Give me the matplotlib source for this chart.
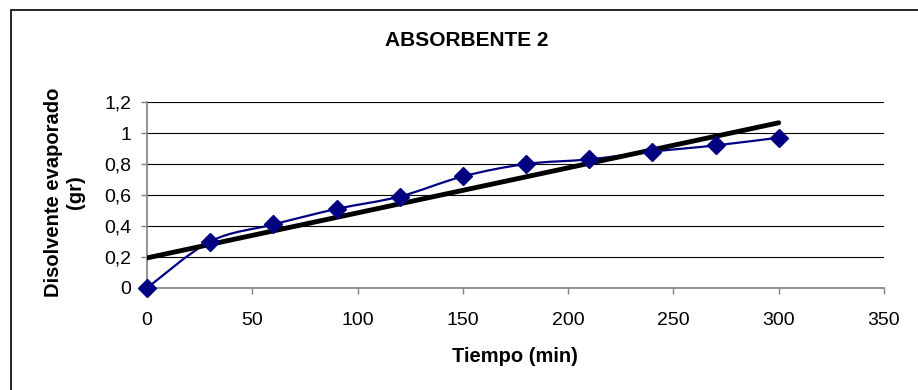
import numpy as np
import matplotlib
matplotlib.use("Agg")
import matplotlib.pyplot as plt
from matplotlib.path import Path
from matplotlib.patches import PathPatch, Rectangle

# data
tiempo = [0, 30, 60, 90, 120, 150, 180, 210, 240, 270, 300]
evaporado = [0.0, 0.30, 0.41, 0.51, 0.59, 0.72, 0.80, 0.83, 0.88, 0.92, 0.97]
xticks = [0, 50, 100, 150, 200, 250, 300, 350]
yticks = [0, 0.2, 0.4, 0.6, 0.8, 1.0, 1.2]
ytick_labels = ["0", "0,2", "0,4", "0,6", "0,8", "1", "1,2"]

plt.rcParams['font.family'] = ['Liberation Sans', 'DejaVu Sans']

fig = plt.figure(figsize=(9.18, 3.9), dpi=100)
W, H = 918, 390
ax = fig.add_axes([147 / W, 1 - 288 / H, (884 - 147) / W, (288 - 102) / H])

# outer frame of the chart area
fig.patches.append(Rectangle((11 / W, -0.1), 1.2, 1 - 10 / H + 0.1, transform=fig.transFigure,
                             fill=False, edgecolor='black', linewidth=1.2))

# smoothed line (Excel-style) through the points, drawn as bezier path
x = np.array(tiempo, dtype=float)
y = np.array(evaporado)
verts = [(x[0], y[0])]
codes = [Path.MOVETO]
n = len(x)
for i in range(n - 1):
    x0, y0 = (x[i - 1], y[i - 1]) if i > 0 else (x[i], y[i])
    x3, y3 = (x[i + 2], y[i + 2]) if i + 2 < n else (x[i + 1], y[i + 1])
    c1 = (x[i] + (x[i + 1] - x0) / 6, y[i] + (y[i + 1] - y0) / 6)
    c2 = (x[i + 1] - (x3 - x[i]) / 6, y[i + 1] - (y3 - y[i]) / 6)
    verts += [c1, c2, (x[i + 1], y[i + 1])]
    codes += [Path.CURVE4] * 3
ax.add_patch(PathPatch(Path(verts, codes), fill=False, edgecolor='#000080', linewidth=1.6, zorder=3))

# linear trendline
m, b = np.polyfit(x, y, 1)
ax.plot([0, 300], [b, m * 300 + b], color='black', linewidth=3.5, solid_capstyle='round', zorder=4)

ax.plot(tiempo, evaporado, linestyle='none', marker='D', markersize=9, color='#000080',
        clip_on=False, zorder=5)

ax.set_xlim(0, 350)
ax.set_ylim(0, 1.2)
ax.set_xticks(xticks)
ax.set_yticks(yticks)
ax.set_yticklabels(ytick_labels)
ax.tick_params(axis='both', labelsize=14, length=4.3, color='#808080', width=1)
ax.tick_params(axis='y', pad=7)
ax.tick_params(axis='x', pad=13)
ax.grid(axis='y', color='black', linewidth=0.8)
ax.set_axisbelow(True)
for s in ['top', 'right']:
    ax.spines[s].set_visible(False)
for s in ['left', 'bottom']:
    ax.spines[s].set_color('#808080')
    ax.spines[s].set_linewidth(1.2)

fig.text(467 / W, 1 - 40 / H, 'ABSORBENTE 2', fontsize=15, fontweight='bold',
         ha='center', va='center')
fig.text(515 / W, 1 - 357 / H, 'Tiempo (min)', fontsize=14.5, fontweight='bold',
         ha='center', va='center')
fig.text(65 / W, 1 - 192 / H, 'Disolvente evaporado\n(gr)', fontsize=14.5, fontweight='bold',
         ha='center', va='center', rotation=90, linespacing=1.2)

fig.savefig('out.png', dpi=100)
